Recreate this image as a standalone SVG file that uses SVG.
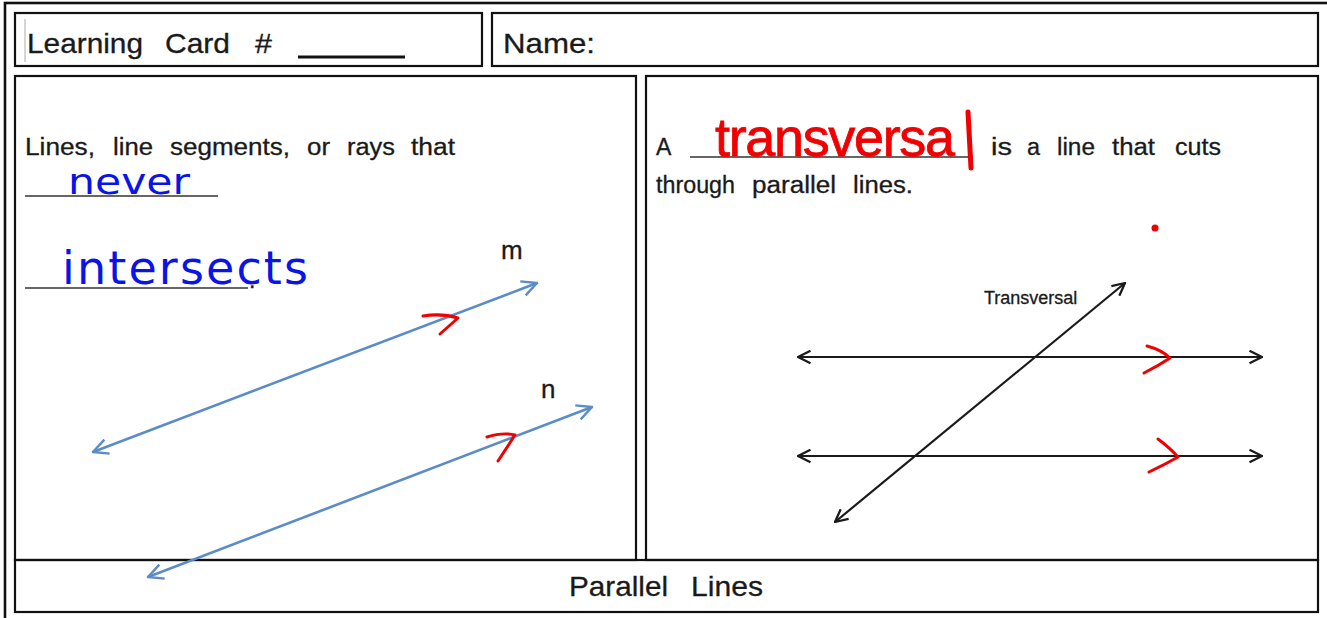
<svg xmlns="http://www.w3.org/2000/svg" width="1327" height="618" viewBox="0 0 1327 618">
<style>
.box{fill:none;stroke:#111;stroke-width:2.2}
.t{font-family:"Liberation Sans",Arial,sans-serif;fill:#1a1a1a;stroke:#1a1a1a;stroke-width:0.3}
.h{font-size:28px}
.b{font-size:23px}
.blue{stroke:#5b8cc8;stroke-width:2.6;fill:none}
.blk{stroke:#1a1a1a;stroke-width:2.2;fill:none}
.red{stroke:#f00000;stroke-width:3;fill:none;stroke-linecap:round;stroke-linejoin:round}
.ul{stroke:#333;stroke-width:1.6}
.hwb{font-family:"DejaVu Sans","Liberation Sans",sans-serif;fill:#0a14e6}
.hwr{font-family:"Liberation Sans",Arial,sans-serif;fill:#f00000;stroke:#f00000;stroke-width:0.8}
</style>
<defs>
<marker id="ab" viewBox="0 0 12 12" refX="11" refY="6" markerUnits="userSpaceOnUse" markerWidth="18" markerHeight="18" orient="auto-start-reverse">
<path d="M1,1 L11,6 L1,11" fill="none" stroke="#5b8cc8" stroke-width="1.6"/>
</marker>
<marker id="ak" viewBox="0 0 12 12" refX="11" refY="6" markerUnits="userSpaceOnUse" markerWidth="15" markerHeight="15" orient="auto-start-reverse">
<path d="M1,1 L11,6 L1,11" fill="none" stroke="#1a1a1a" stroke-width="1.8"/>
</marker>
</defs>
<rect width="1327" height="618" fill="#fff"/>
<rect x="5" y="3" width="1330" height="630" fill="none" stroke="#111" stroke-width="2.6"/>

<g id="header-card">
<rect class="box" x="15" y="13" width="467" height="53"/>
<line x1="25" y1="19" x2="25" y2="62" stroke="#aaa" stroke-width="1"/>
<text class="t h" y="53"><tspan x="27" textLength="116" lengthAdjust="spacingAndGlyphs">Learning</tspan><tspan x="165" textLength="65" lengthAdjust="spacingAndGlyphs">Card</tspan><tspan x="255" textLength="17" lengthAdjust="spacingAndGlyphs">#</tspan></text>
<line x1="298" y1="57" x2="405" y2="57" stroke="#111" stroke-width="2.8"/>
</g>

<g id="header-name">
<rect class="box" x="492" y="13" width="826" height="53"/>
<text class="t h" x="503" y="53" textLength="92" lengthAdjust="spacingAndGlyphs">Name:</text>
</g>

<g id="panel-left">
<rect class="box" x="15" y="76" width="621" height="484"/>
<text class="t b" y="155"><tspan x="25" textLength="70" lengthAdjust="spacingAndGlyphs">Lines,</tspan><tspan x="113" textLength="40" lengthAdjust="spacingAndGlyphs">line</tspan><tspan x="170" textLength="120" lengthAdjust="spacingAndGlyphs">segments,</tspan><tspan x="307" textLength="23" lengthAdjust="spacingAndGlyphs">or</tspan><tspan x="347" textLength="48" lengthAdjust="spacingAndGlyphs">rays</tspan><tspan x="411" textLength="44" lengthAdjust="spacingAndGlyphs">that</tspan></text>
<line class="ul" x1="25" y1="196" x2="218" y2="196"/>
<line class="ul" x1="25" y1="288" x2="248" y2="288"/>
<text class="t b" x="249" y="288">.</text>
<text class="hwb" x="68" y="194" font-size="36" textLength="122" lengthAdjust="spacingAndGlyphs">never</text>
<text class="hwb" x="62" y="284" font-size="46" textLength="246" lengthAdjust="spacing">intersects</text>
<text class="t" x="501" y="259" font-size="26">m</text>
<text class="t" x="541" y="398" font-size="26">n</text>
</g>

<g id="panel-right">
<rect class="box" x="646" y="76" width="672" height="484"/>
<text class="t b" y="155"><tspan x="656">A</tspan><tspan x="991" textLength="21" lengthAdjust="spacingAndGlyphs">is</tspan><tspan x="1027" textLength="13" lengthAdjust="spacingAndGlyphs">a</tspan><tspan x="1057" textLength="38" lengthAdjust="spacingAndGlyphs">line</tspan><tspan x="1112" textLength="43" lengthAdjust="spacingAndGlyphs">that</tspan><tspan x="1175" textLength="46" lengthAdjust="spacingAndGlyphs">cuts</tspan></text>
<line class="ul" x1="690" y1="157" x2="973" y2="157"/>
<text class="t b" y="193"><tspan x="656" textLength="79" lengthAdjust="spacingAndGlyphs">through</tspan><tspan x="752" textLength="84" lengthAdjust="spacingAndGlyphs">parallel</tspan><tspan x="853" textLength="60" lengthAdjust="spacingAndGlyphs">lines.</tspan></text>
<text class="hwr" x="715" y="156" font-size="54" textLength="240" lengthAdjust="spacing">transversa</text>
<line x1="968" y1="112" x2="971" y2="168" stroke="#f00000" stroke-width="5" stroke-linecap="round"/>
<circle cx="1155" cy="228" r="3.5" fill="#f00000"/>
<text class="t" x="984" y="304" font-size="18" fill="#444" stroke="#444" stroke-width="0.2">Transversal</text>
</g>

<g id="footer">
<rect class="box" x="15" y="560" width="1303" height="52"/>
<text class="t h" y="596"><tspan x="569" textLength="99" lengthAdjust="spacingAndGlyphs">Parallel</tspan><tspan x="691" textLength="72" lengthAdjust="spacingAndGlyphs">Lines</tspan></text>
</g>

<g id="connectors">
<line class="blue" x1="93" y1="452" x2="537" y2="283" marker-start="url(#ab)" marker-end="url(#ab)"/>
<line class="blue" x1="148" y1="577" x2="592" y2="407" marker-start="url(#ab)" marker-end="url(#ab)"/>
<line class="blk" x1="798" y1="357" x2="1262" y2="357" marker-start="url(#ak)" marker-end="url(#ak)"/>
<line class="blk" x1="798" y1="456" x2="1262" y2="456" marker-start="url(#ak)" marker-end="url(#ak)"/>
<line class="blk" x1="835" y1="522" x2="1125" y2="283" marker-start="url(#ak)" marker-end="url(#ak)"/>
<path class="red" d="M423,316 Q442,313 458,318 L440,334"/>
<path class="red" d="M487,437 Q503,432 515,435 L498,461"/>
<path class="red" d="M1147,346 Q1162,350 1170,358 Q1158,366 1144,373"/>
<path class="red" d="M1158,439 Q1170,448 1178,457 Q1164,465 1149,472"/>
</g>
</svg>
